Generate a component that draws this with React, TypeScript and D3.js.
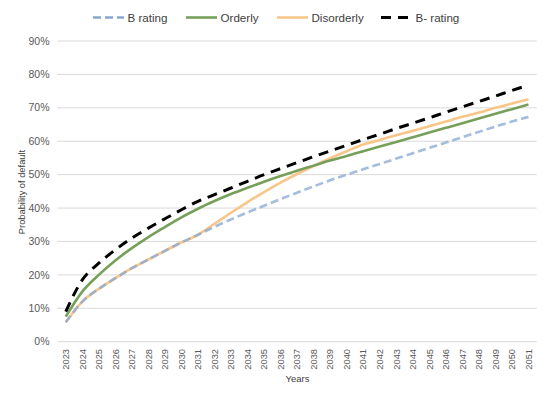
import React from "react";
import * as d3 from "d3";

const years = [
  "2023", "2024", "2025", "2026", "2027", "2028", "2029", "2030", "2031", "2032",
  "2033", "2034", "2035", "2036", "2037", "2038", "2039", "2040", "2041", "2042",
  "2043", "2044", "2045", "2046", "2047", "2048", "2049", "2050", "2051",
];

const bRating = [
  5.8, 12, 15.8, 19, 22, 24.6, 27.2, 29.7, 32, 34.4,
  36.6, 38.7, 40.7, 42.7, 44.6, 46.5, 48.3, 50, 51.6, 53.2,
  54.8, 56.4, 58, 59.6, 61.2, 62.8, 64.4, 65.9, 67.3,
];
const orderly = [
  7.5, 15, 20, 24.3, 28, 31.3, 34.3, 37.2, 39.8, 42.1,
  44.2, 46.1, 47.9, 49.6, 51.2, 52.7, 54.2, 55.6, 57, 58.4,
  59.8, 61.2, 62.6, 64, 65.4, 66.8, 68.2, 69.6, 71,
];
const disorderly = [
  5.8, 12, 15.8, 19, 22, 24.6, 27.2, 29.7, 32, 35.3,
  38.6, 41.8, 44.8, 47.6, 50.2, 52.6, 54.9, 57, 59, 60.4,
  61.8, 63.1, 64.5, 65.9, 67.3, 68.6, 70, 71.3, 72.6,
];
const bMinusRating = [
  9, 18.5, 23.5, 27.5, 31, 34, 36.8, 39.5, 42, 44,
  46, 48, 50, 51.8, 53.6, 55.4, 57.1, 58.8, 60.5, 62.1,
  63.8, 65.4, 67, 68.7, 70.3, 71.9, 73.5, 75.2, 76.8,
];

const yTicks = [0, 10, 20, 30, 40, 50, 60, 70, 80, 90];

const W = 550;
const H = 399;
const left = 57.5;
const right = 536.7;
const top = 41;
const bottom = 341.7;
const font = "'Liberation Sans', Arial, sans-serif";

interface Series {
  name: string;
  values: number[];
  color: string;
  width: number;
  dash?: string;
  opacity?: number;
}

// legend order
const legend: Series[] = [
  { name: "B rating", values: bRating, color: "#86A6D2", width: 2.6, dash: "8,4" },
  { name: "Orderly", values: orderly, color: "#76A05A", width: 2.6 },
  { name: "Disorderly", values: disorderly, color: "#F9C68A", width: 2.6 },
  { name: "B- rating", values: bMinusRating, color: "#000000", width: 3, dash: "10,7" },
];

// draw order (blue dashes sit over the orange where they overlap)
const drawOrder: Series[] = [
  legend[2],
  { ...legend[0], opacity: 0.75 },
  legend[1],
  legend[3],
];

const legendX = [93, 186, 277, 381];

export default function App() {
  const x = d3.scaleBand<string>().domain(years).range([left, right]);
  const y = d3.scaleLinear().domain([0, 90]).range([bottom, top]);
  const cx = (d: string) => (x(d) as number) + x.bandwidth() / 2;

  const line = (vals: number[]) =>
    d3
      .line<number>()
      .x((_, i) => cx(years[i]))
      .y((v) => y(v))
      .curve(d3.curveMonotoneX)(vals) as string;

  return (
    <svg
      width={W}
      height={H}
      style={{ position: "absolute", left: 0, top: 0, background: "#fff" }}
      fontFamily={font}
    >
      {yTicks.map((t) => (
        <g key={t}>
          <line x1={left} x2={right} y1={y(t)} y2={y(t)} stroke="#D9D9D9" strokeWidth={1} />
          <text x={49.5} y={y(t)} dy="0.35em" textAnchor="end" fontSize={10.5} fill="#595959">
            {t}%
          </text>
        </g>
      ))}

      {years.map((yr) => (
        <text
          key={yr}
          transform={`translate(${cx(yr) + 3.3},349) rotate(-90)`}
          textAnchor="end"
          fontSize={9.3}
          fill="#595959"
        >
          {yr}
        </text>
      ))}

      <text x={297.5} y={381.5} textAnchor="middle" fontSize={9.5} fill="#404040">
        Years
      </text>
      <text
        transform="translate(24.5,192) rotate(-90)"
        textAnchor="middle"
        fontSize={9.3}
        fill="#404040"
      >
        Probability of default
      </text>

      {drawOrder.map((s) => (
        <path
          key={s.name}
          d={line(s.values)}
          fill="none"
          stroke={s.color}
          strokeWidth={s.width}
          strokeDasharray={s.dash}
          opacity={s.opacity ?? 1}
          strokeLinejoin="round"
        />
      ))}

      {legend.map((s, i) => (
        <g key={s.name} transform={`translate(${legendX[i]},17.5)`}>
          <line
            x1={0}
            x2={31}
            y1={0}
            y2={0}
            stroke={s.color}
            strokeWidth={s.width}
            strokeDasharray={s.dash}
          />
          <text x={34.5} y={0} dy="0.35em" fontSize={11.6} fill="#404040">
            {s.name}
          </text>
        </g>
      ))}
    </svg>
  );
}
